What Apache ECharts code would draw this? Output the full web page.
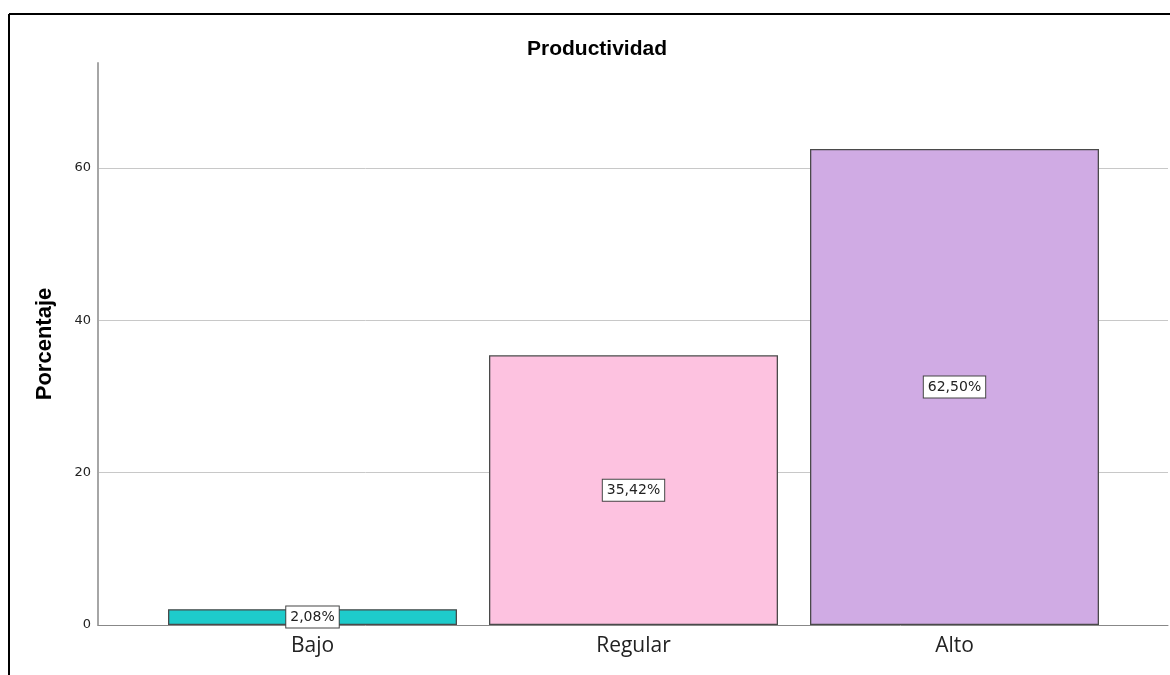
<!DOCTYPE html>
<html>
<head>
<meta charset="utf-8">
<script src="https://cdn.jsdelivr.net/npm/echarts@6/dist/echarts.min.js"></script>
<style>
  html, body { margin: 0; padding: 0; background: #fff; }
  #chart { width: 1170px; height: 675px; }
</style>
</head>
<body>
<div id="chart"></div>
<script>
// Productividad: distribución porcentual por nivel
const categories = ['Bajo', 'Regular', 'Alto'];
const percentages = [2.08, 35.42, 62.50];
const barColors = ['#1ecbcb', '#fdc2e0', '#d0abe4'];
const yTicks = [0, 20, 40, 60];
const yMax = 73.8;

const chart = echarts.init(document.getElementById('chart'), null, { renderer: 'canvas' });

const fmtPct = v => v.toFixed(2).replace('.', ',') + '%';

chart.setOption({
  animation: false,
  backgroundColor: '#ffffff',
  title: {
    text: 'Productividad',
    left: 592,
    top: 34,
    textAlign: 'center',
    textStyle: { fontFamily: 'Liberation Sans, Arial, sans-serif', fontSize: 21, fontWeight: 'bold', color: '#000' }
  },
  graphic: [
    { type: 'line', shape: { x1: 9, y1: 14, x2: 1170, y2: 14 }, style: { stroke: '#000', lineWidth: 2 } },
    { type: 'line', shape: { x1: 9, y1: 14, x2: 9, y2: 675 }, style: { stroke: '#000', lineWidth: 2 } }
  ],
  grid: [
    // frame grid: axis line, ticks and gridlines
    { left: 98, right: 2, top: 63, bottom: 50 },
    // bar grid: category bands
    { left: 152, right: 55, top: 63, bottom: 50 }
  ],
  xAxis: [
    {
      gridIndex: 0, type: 'value', min: 0, max: 1,
      axisLine: { show: true, lineStyle: { color: '#888', width: 1 } },
      axisTick: { show: false }, axisLabel: { show: false }, splitLine: { show: false }
    },
    {
      gridIndex: 1, type: 'category', data: categories,
      axisLine: { show: false }, axisTick: { show: false },
      axisLabel: {
        margin: 11, fontSize: 21, color: '#222',
        fontFamily: 'Open Sans, Noto Sans, sans-serif'
      }
    }
  ],
  yAxis: [
    {
      gridIndex: 0, type: 'value', min: 0, max: yMax, interval: 20,
      name: 'Porcentaje', nameLocation: 'middle', nameGap: 42, nameRotate: 90,
      nameTextStyle: { fontFamily: 'Liberation Sans, Arial, sans-serif', fontSize: 22, fontWeight: 'bold', color: '#000' },
      axisLine: { show: true, lineStyle: { color: '#a6a6a6', width: 2 } },
      axisTick: { show: false },
      axisLabel: {
        margin: 7, fontSize: 13, color: '#222',
        fontFamily: 'DejaVu Sans, sans-serif',
        showMaxLabel: false,
        formatter: v => (yTicks.indexOf(v) >= 0 ? String(v) : '')
      },
      splitLine: { show: true, showMinLine: false, showMaxLine: false, lineStyle: { color: '#c8c8c8', width: 1 } }
    },
    {
      gridIndex: 1, type: 'value', min: 0, max: yMax, interval: 20,
      show: false, splitLine: { show: false }
    }
  ],
  series: [
    {
      type: 'bar',
      xAxisIndex: 1, yAxisIndex: 1,
      barWidth: 289,
      data: percentages.map((v, i) => ({
        value: v,
        itemStyle: { color: barColors[i], borderColor: '#4a4a4a', borderWidth: 1.3 }
      })),
      label: {
        show: true,
        position: 'inside',
        formatter: p => fmtPct(p.value),
        fontFamily: 'DejaVu Sans, sans-serif',
        fontSize: 14,
        color: '#222',
        backgroundColor: '#fff',
        borderColor: '#444',
        borderWidth: 1,
        padding: [4, 4, 3, 4]
      }
    }
  ]
});
</script>
</body>
</html>
